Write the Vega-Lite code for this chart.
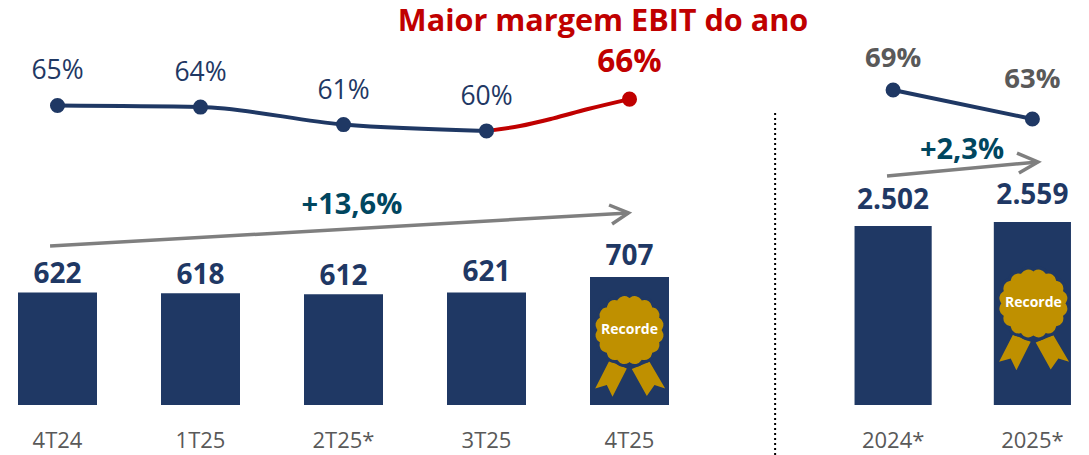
{
"$schema":"https://vega.github.io/schema/vega-lite/v6.json",
"padding":0,
"background":"white",
"spacing":149.5,
"bounds":"flush",
"config":{"view":{"stroke":null},"text":{"font":"Open Sans"},"axis":{"labelFont":"Open Sans"}},
"datasets":{
"trimestres":[
{"periodo":"4T24","ebit":622,"margem":65,"rotulo":"65%"},
{"periodo":"1T25","ebit":618,"margem":64.7,"rotulo":"64%"},
{"periodo":"2T25*","ebit":612,"margem":61.4,"rotulo":"61%"},
{"periodo":"3T25","ebit":621,"margem":60.2,"rotulo":"60%"},
{"periodo":"4T25","ebit":707,"margem":66.2,"rotulo":"66%"}],
"anos":[
{"periodo":"2024*","ebit":2502,"ebitTexto":"2.502","margem":69,"rotulo":"69%"},
{"periodo":"2025*","ebit":2559,"ebitTexto":"2.559","margem":63,"rotulo":"63%"}],
"setaTrim":[
{"t":-0.052,"nivel":878,"parte":"haste","ordem":1},
{"t":3.993,"nivel":1061,"parte":"haste","ordem":2},
{"t":3.857,"nivel":1105,"parte":"ponta","ordem":1},
{"t":3.993,"nivel":1061,"parte":"ponta","ordem":2},
{"t":3.878,"nivel":1000,"parte":"ponta","ordem":3}],
"setaAno":[
{"t":-0.043,"nivel":3203,"parte":"haste","ordem":1},
{"t":1.043,"nivel":3399,"parte":"haste","ordem":2},
{"t":0.892,"nivel":3524,"parte":"ponta","ordem":1},
{"t":1.043,"nivel":3399,"parte":"ponta","ordem":2},
{"t":0.906,"nivel":3245,"parte":"ponta","ordem":3}]
},
"hconcat":[
{"width":687,"height":405,
"resolve":{"scale":{"x":"independent","y":"independent"}},
"layer":[
{"encoding":{
"x":{"field":"periodo","type":"nominal","sort":null,"scale":{"type":"band","domain":["4T24","1T25","2T25*","3T25","4T25"],"paddingInner":0.4476,"paddingOuter":0.1259},
"axis":{"title":null,"domain":false,"ticks":false,"labelAngle":0,"labelFontSize":22,"labelColor":"#595959","labelPadding":25,"grid":false}},
"y":{"field":"ebit","type":"quantitative","scale":{"domain":[0,2237.6]},"axis":null}},
"layer":[
{"data":{"name":"trimestres"},"mark":{"type":"bar","color":"#1f3864"}},
{"data":{"name":"trimestres"},"transform":[{"filter":"datum.ebit!=621&&datum.ebit!=707"}],"mark":{"type":"text","fontWeight":"bold","fontSize":28,"color":"#1f3864","baseline":"middle","dy":-17},"encoding":{"text":{"field":"ebit","type":"quantitative"}}},
{"data":{"name":"trimestres"},"transform":[{"filter":"datum.ebit==621||datum.ebit==707"}],"mark":{"type":"text","fontWeight":"bold","fontSize":28,"color":"#1f3864","baseline":"middle","dy":-20},"encoding":{"text":{"field":"ebit","type":"quantitative"}}},
{"data":{"values":[{"periodo":"4T25","ebit":414}]},"mark":{"type":"point","filled":true,"opacity":1,"color":"#bf9000","size":6400,"shape":"M-.508 .775L-.858 1.458L-.567 1.375L-.425 1.667L-.067 .958ZM.5 .792L.892 1.458L.625 1.375L.433 1.65L.058 .975Z"}},
{"data":{"values":[{"periodo":"4T25","ebit":414}]},"mark":{"type":"point","filled":true,"opacity":1,"color":"#bf9000","stroke":"#1f3864","strokeWidth":3,"size":5417,"shape":"M.92 0A.25 .25 0 0 1 .85 .352A.25 .25 0 0 1 .651 .651A.25 .25 0 0 1 .352 .85A.25 .25 0 0 1 0 .92A.25 .25 0 0 1 -.352 .85A.25 .25 0 0 1 -.651 .651A.25 .25 0 0 1 -.85 .352A.25 .25 0 0 1 -.92 0A.25 .25 0 0 1 -.85 -.352A.25 .25 0 0 1 -.651 -.651A.25 .25 0 0 1 -.352 -.85A.25 .25 0 0 1 0 -.92A.25 .25 0 0 1 .352 -.85A.25 .25 0 0 1 .651 -.651A.25 .25 0 0 1 .85 -.352A.25 .25 0 0 1 .92 0Z"}},
{"data":{"values":[{"periodo":"4T25","ebit":414,"selo":"Recorde"}]},"mark":{"type":"text","fontWeight":"bold","fontSize":14,"color":"white","baseline":"middle"},"encoding":{"text":{"field":"selo"}}}
]},
{"data":{"values":[{"t":3,"margem":60.2},{"t":3.234,"margem":61.13},{"t":3.467,"margem":62.58},{"t":3.703,"margem":64.28},{"t":4,"margem":66.2}]},
"mark":{"type":"line","color":"#c00000","strokeWidth":4,"interpolate":"monotone"},
"encoding":{"x":{"field":"t","type":"quantitative","scale":{"domain":[-0.402,4.402]},"axis":null},"y":{"field":"margem","type":"quantitative","scale":{"domain":[8.5,84.9]},"axis":null}}},
{"encoding":{
"x":{"field":"t","type":"quantitative","scale":{"domain":[-0.402,4.402]},"axis":null},
"y":{"field":"nivel","type":"quantitative","scale":{"domain":[0,2237.6]},"axis":null}},
"layer":[
{"data":{"name":"setaTrim"},"mark":{"type":"line","color":"#7f7f7f","strokeWidth":3.5},"encoding":{"detail":{"field":"parte"},"order":{"field":"ordem"}}},
{"data":{"values":[{"t":2.059,"nivel":1105,"texto":"+13,6%"}]},"mark":{"type":"text","fontWeight":"bold","fontSize":29,"color":"#00465f","baseline":"middle"},"encoding":{"text":{"field":"texto"}}},
{"data":{"values":[{"t":3.815,"nivel":2116,"texto":"Maior margem EBIT do ano"}]},"mark":{"type":"text","fontWeight":"bold","fontSize":30.6,"color":"#c00000","baseline":"middle"},"encoding":{"text":{"field":"texto"}}}
]},
{"encoding":{
"x":{"field":"periodo","type":"nominal","sort":null,"scale":{"type":"band","domain":["4T24","1T25","2T25*","3T25","4T25"],"paddingInner":0.4476,"paddingOuter":0.1259},"axis":null},
"y":{"field":"margem","type":"quantitative","scale":{"domain":[8.5,84.9]},"axis":null}},
"layer":[
{"data":{"name":"trimestres"},"transform":[{"filter":"datum.periodo!='4T25'"}],"mark":{"type":"line","color":"#1f3864","strokeWidth":4,"interpolate":"monotone"}},
{"data":{"name":"trimestres"},"mark":{"type":"point","filled":true,"opacity":1,"size":227},"encoding":{"color":{"condition":{"test":"datum.periodo=='4T25'","value":"#c00000"},"value":"#1f3864"}}},
{"data":{"name":"trimestres"},"transform":[{"filter":"datum.periodo!='4T25'"}],"mark":{"type":"text","fontSize":26.5,"color":"#1f3864","baseline":"alphabetic","dy":-26},"encoding":{"text":{"field":"rotulo"}}},
{"data":{"name":"trimestres"},"transform":[{"filter":"datum.periodo=='4T25'"}],"mark":{"type":"text","fontSize":31.5,"fontWeight":"bold","color":"#c00000","baseline":"alphabetic","dy":-27},"encoding":{"text":{"field":"rotulo"}}}
]}
]},
{"width":252.5,"height":405,
"resolve":{"scale":{"x":"independent","y":"independent"}},
"layer":[
{"encoding":{
"x":{"field":"periodo","type":"nominal","sort":null,"scale":{"type":"band","domain":["2024*","2025*"],"paddingInner":0.446,"paddingOuter":0.1295},
"axis":{"title":null,"domain":false,"ticks":false,"labelAngle":0,"labelFontSize":22,"labelColor":"#595959","labelPadding":25,"grid":false}},
"y":{"field":"ebit","type":"quantitative","scale":{"domain":[0,5664]},"axis":null}},
"layer":[
{"data":{"name":"anos"},"mark":{"type":"bar","color":"#1f3864"}},
{"data":{"name":"anos"},"transform":[{"filter":"datum.ebit==2502"}],"mark":{"type":"text","fontWeight":"bold","fontSize":28,"color":"#1f3864","baseline":"middle","dy":-25},"encoding":{"text":{"field":"ebitTexto"}}},
{"data":{"name":"anos"},"transform":[{"filter":"datum.ebit==2559"}],"mark":{"type":"text","fontWeight":"bold","fontSize":28,"color":"#1f3864","baseline":"middle","dy":-26},"encoding":{"text":{"field":"ebitTexto"}}},
{"data":{"values":[{"periodo":"2025*","ebit":1420}]},"mark":{"type":"point","filled":true,"opacity":1,"color":"#bf9000","size":6400,"xOffset":1,"shape":"M-.508 .775L-.858 1.458L-.567 1.375L-.425 1.667L-.067 .958ZM.5 .792L.892 1.458L.625 1.375L.433 1.65L.058 .975Z"}},
{"data":{"values":[{"periodo":"2025*","ebit":1420}]},"mark":{"type":"point","filled":true,"opacity":1,"color":"#bf9000","stroke":"#1f3864","strokeWidth":3,"size":5417,"xOffset":1,"shape":"M.92 0A.25 .25 0 0 1 .85 .352A.25 .25 0 0 1 .651 .651A.25 .25 0 0 1 .352 .85A.25 .25 0 0 1 0 .92A.25 .25 0 0 1 -.352 .85A.25 .25 0 0 1 -.651 .651A.25 .25 0 0 1 -.85 .352A.25 .25 0 0 1 -.92 0A.25 .25 0 0 1 -.85 -.352A.25 .25 0 0 1 -.651 -.651A.25 .25 0 0 1 -.352 -.85A.25 .25 0 0 1 0 -.92A.25 .25 0 0 1 .352 -.85A.25 .25 0 0 1 .651 -.651A.25 .25 0 0 1 .85 -.352A.25 .25 0 0 1 .92 0Z"}},
{"data":{"values":[{"periodo":"2025*","ebit":1420,"selo":"Recorde"}]},"mark":{"type":"text","fontWeight":"bold","fontSize":14,"color":"white","baseline":"middle","dx":1},"encoding":{"text":{"field":"selo"}}},
{"data":{"values":[{"periodo":"2024*","ebit":4084,"fim":-699}]},"mark":{"type":"rule","xOffset":-118,"color":"black","strokeWidth":2,"strokeDash":[2,3]},"encoding":{"y2":{"field":"fim"}}}
]},
{"encoding":{
"x":{"field":"t","type":"quantitative","scale":{"domain":[-0.4065,1.41]},"axis":null},
"y":{"field":"nivel","type":"quantitative","scale":{"domain":[0,5664]},"axis":null}},
"layer":[
{"data":{"name":"setaAno"},"mark":{"type":"line","color":"#7f7f7f","strokeWidth":3.5},"encoding":{"detail":{"field":"parte"},"order":{"field":"ordem"}}},
{"data":{"values":[{"t":0.496,"nivel":3565,"texto":"+2,3%"}]},"mark":{"type":"text","fontWeight":"bold","fontSize":29,"color":"#00465f","baseline":"middle"},"encoding":{"text":{"field":"texto"}}}
]},
{"encoding":{
"x":{"field":"periodo","type":"nominal","sort":null,"scale":{"type":"band","domain":["2024*","2025*"],"paddingInner":0.446,"paddingOuter":0.1295},"axis":null},
"y":{"field":"margem","type":"quantitative","scale":{"domain":[3.82,87.62]},"axis":null}},
"layer":[
{"data":{"name":"anos"},"mark":{"type":"line","color":"#1f3864","strokeWidth":4}},
{"data":{"name":"anos"},"mark":{"type":"point","filled":true,"opacity":1,"size":227,"color":"#1f3864"}},
{"data":{"name":"anos"},"transform":[{"filter":"datum.margem==69"}],"mark":{"type":"text","fontSize":27.5,"fontWeight":"bold","color":"#595959","baseline":"alphabetic","dy":-23},"encoding":{"text":{"field":"rotulo"}}},
{"data":{"name":"anos"},"transform":[{"filter":"datum.margem==63"}],"mark":{"type":"text","fontSize":27.5,"fontWeight":"bold","color":"#595959","baseline":"alphabetic","dy":-31},"encoding":{"text":{"field":"rotulo"}}}
]}
]}
]}
